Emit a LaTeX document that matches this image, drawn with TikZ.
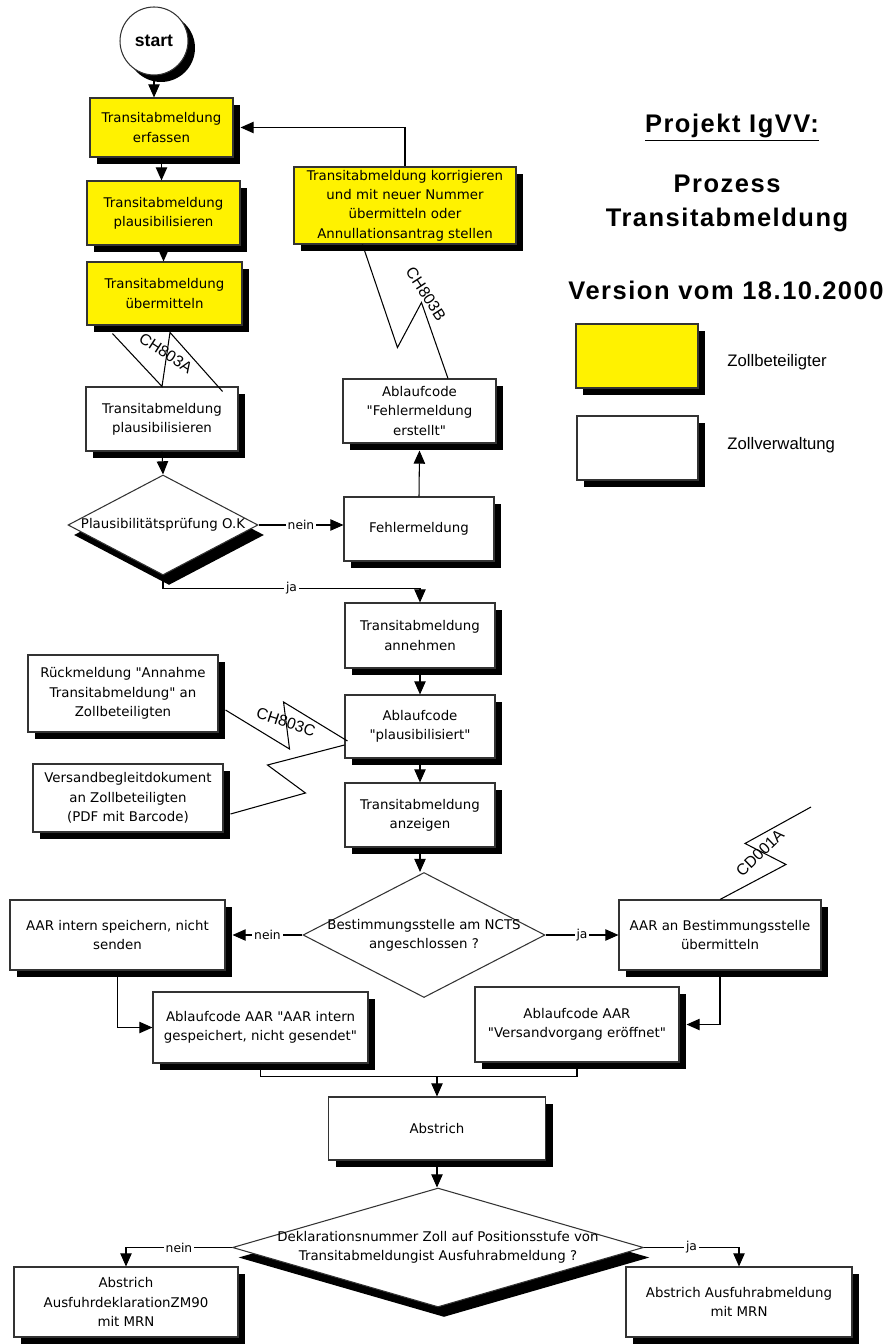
\documentclass[tikz,border=0pt]{standalone}
\usepackage{fontspec}
\setmainfont{DejaVu Sans}[Ligatures=TeXOff]
\newfontfamily\arialfont{Liberation Sans}
\newfontfamily\titlefont[LetterSpace=6]{Liberation Sans}
\usetikzlibrary{shapes.geometric,arrows.meta,shadows,calc}

\begin{document}
\begin{tikzpicture}[x=0.02cm, y=-0.02cm, line width=0.6pt,
        box/.style 2 args={draw=black!80, fill=white, minimum width=#1*0.02cm, minimum height=#2*0.02cm, inner sep=1pt, align=center, font=\fontsize{7.6}{11}\selectfont, drop shadow={shadow xshift=0.14cm, shadow yshift=-0.14cm, opacity=1, fill=black}},
        gelb/.style={fill=yellow},
        raute/.style 2 args={diamond, draw=black!80, fill=white, minimum width=#1*0.02cm, minimum height=#2*0.02cm, inner sep=0pt},
        rautesh/.style={drop shadow={shadow xshift=0.12cm, shadow yshift=-0.2cm, opacity=1, fill=black}},
        txt/.style={align=center, font=\fontsize{7.6}{11}\selectfont, inner sep=0pt},
        lbl/.style={fill=white, inner sep=1pt, font=\fontsize{7}{8}\selectfont},
        code/.style={font=\arialfont\fontsize{9}{10}\selectfont, inner sep=0pt},
        titel/.style={font=\titlefont\bfseries\fontsize{14.5}{19.3}\selectfont, align=center, inner sep=0pt},
        pfeil/.style={-{Triangle[width=6.5pt,length=7.5pt]}}]
                \useasboundingbox (0,0) rectangle (890,1344);
                \node[circle, draw=black!80, fill=white, minimum size=1.36cm, inner sep=0pt, font=\arialfont\bfseries\fontsize{10}{12}\selectfont, drop shadow={shadow xshift=0.14cm, shadow yshift=-0.14cm, opacity=1, fill=black}] (start) at (154,41) {start};
                \node[box={143}{59}, gelb] (erf) at (161.5,127.5) {Transitabmeldung\\erfassen};
                \node[box={153}{64}, gelb] (plaus1) at (163.5,213) {Transitabmeldung\\plausibilisieren};
                \node[box={155}{63}, gelb] (ueber) at (164.5,293.5) {Transitabmeldung\\übermitteln};
                \node[box={152}{64}] (plaus2) at (162,419) {Transitabmeldung\\plausibilisieren};
                \node[raute={190}{100}, rautesh, label={[name=d1t, txt]center:Plausibilitätsprüfung O.K}] (d1) at (163,525) {};
                \node[box={150}{64}] (fehler) at (419,529) {Fehlermeldung};
                \node[box={153}{64}] (fehlerc) at (419.5,411) {Ablaufcode\\"Fehlermeldung\\erstellt"};
                \node[box={222}{77}, gelb] (korr) at (405,205.5) {Transitabmeldung korrigieren\\und mit neuer Nummer\\übermitteln oder\\Annullationsantrag stellen};
                \node[box={150}{65}] (annehmen) at (420,635.5) {Transitabmeldung\\annehmen};
                \node[box={150}{63}] (plausi) at (420,726.5) {Ablaufcode\\"plausibilisiert"};
                \node[box={190}{77}] (rueck) at (123,693.5) {Rückmeldung "Annahme\\Transitabmeldung" an\\Zollbeteiligten};
                \node[box={190}{68}] (versand) at (128,798) {Versandbegleitdokument\\an Zollbeteiligten\\(PDF mit Barcode)};
                \node[box={150}{64}] (anzeigen) at (420,815) {Transitabmeldung\\anzeigen};
                \node[raute={242}{125}, label={[name=d2t, txt]center:Bestimmungsstelle am NCTS\\angeschlossen ?}] (d2) at (424,935) {};
                \node[box={215}{70}] (aarint) at (117.5,935) {AAR intern speichern, nicht\\senden};
                \node[box={202}{70}] (aarbest) at (720,935) {AAR an Bestimmungsstelle\\übermitteln};
                \node[box={215}{71}] (aarintc) at (260.5,1027.5) {Ablaufcode AAR "AAR intern\\gespeichert, nicht gesendet"};
                \node[box={204}{75}] (versandv) at (577,1024.5) {Ablaufcode AAR\\"Versandvorgang eröffnet"};
                \node[box={217}{63}] (abstrich) at (437,1128.5) {Abstrich};
                \node[raute={411}{119}, rautesh, label={[name=d3t, txt]center:Deklarationsnummer Zoll auf Positionsstufe von\\Transitabmeldungist Ausfuhrabmeldung ?}] (d3) at (438,1247.5) {};
                \node[box={224}{70}] (abzm) at (126,1302) {Abstrich\\AusfuhrdeklarationZM90\\mit MRN};
                \node[box={226}{70}] (abmrn) at (739,1302) {Abstrich Ausfuhrabmeldung\\mit MRN};
                \node[titel] (projekt) at (732,128) {\underline{Projekt IgVV:}};
                \node[titel] (prozess) at (727,203) {Prozess\\Transitabmeldung};
                \node[titel] (version) at (726,290) {Version vom 18.10.2000};
                \node[box={122}{64}, gelb] (leg1) at (637,356) {};
                \node[box={121}{64}] (leg2) at (637.5,448) {};
                \node[anchor=west, font=\arialfont\fontsize{9.5}{11}\selectfont] (leg1t) at (721,362) {Zollbeteiligter};
                \node[anchor=west, font=\arialfont\fontsize{9.5}{11}\selectfont] (leg2t) at (721,445) {Zollverwaltung};
                \draw[pfeil] (start.south) -- (start.south |- erf.north);
                \draw[pfeil] (erf.south) -- (erf.south |- plaus1.north);
                \draw[pfeil] (plaus1.south) -- (plaus1.south |- ueber.north);
                \draw ($(ueber.south west)+(26,8)$) -- (plaus2.north) -- ++(8,-54) -- ($(plaus2.north east)+(-16,5)$);
                \node[code, rotate=-33] (ch803a) at (166,353) {CH803A};
                \draw[pfeil] (plaus2.south) -- (d1.north);
                \draw[pfeil] (d1.east) -- node[lbl] (nein1) {nein} (d1.east -| fehler.west);
                \draw[pfeil] (fehler.north) -- ([yshift=-0.14cm]fehlerc.south);
                \draw ($(korr.south west)+(69,0)$) -- ++(35,103) -- ++(24,-45) -- ($(fehlerc.north)+(28.5,0)$);
                \node[code, rotate=-57] (ch803b) at (426,294) {CH803B};
                \draw[pfeil] (korr.north) |- ([xshift=0.14cm]erf.east);
                \draw[pfeil] (d1.south) -- ++(0,13) -| node[lbl, pos=0.25] (ja1) {ja} (annehmen.north);
                \draw[pfeil] (annehmen.south) -- (plausi.north);
                \draw ($(rueck.east)+(7,16.5)$) -- ++(64,39) -- ++(-6,-47) -- ($(plausi.west)+(3,14.5)$);
                \node[code, rotate=-18] (ch803c) at (286,722) {CH803C};
                \draw ($(plausi.west)+(0,18.5)$) -- ++(-77,20) -- ++(38,28) -- ($(versand.east)+(7,16)$);
                \draw[pfeil] (plausi.south) -- (anzeigen.north);
                \draw[pfeil] (anzeigen.south) -- (anzeigen.south |- d2.north);
                \draw[pfeil] (d2.west) -- node[lbl] (nein2) {nein} ([xshift=0.14cm]aarint.east);
                \draw[pfeil] (d2.east) -- node[lbl] (ja2) {ja} (aarbest.west);
                \coordinate (cdende) at (811,807);
                \draw (aarbest.north) -- ++(66,-35) -- ++(-41,-21) -- (cdende);
                \node[code, rotate=44] (cd001a) at (760,853) {CD001A};
                \draw[pfeil] (aarint.south) |- (aarintc.west);
                \draw[pfeil] (aarbest.south) |- ([xshift=0.14cm]versandv.east);
                \coordinate (mitte) at ($(abstrich.north)+(0,-20)$);
                \draw (aarintc.south) |- (mitte) -| (versandv.south);
                \draw[pfeil] (mitte) -- (abstrich.north);
                \draw[pfeil] (abstrich.south) -- (abstrich.south |- d3.north);
                \draw[pfeil] (d3.west) -| node[lbl, pos=0.25] (nein3) {nein} (abzm.north);
                \draw[pfeil] (d3.east) -| node[lbl, pos=0.25] (ja3) {ja} (abmrn.north);
            \end{tikzpicture}
\end{document}
